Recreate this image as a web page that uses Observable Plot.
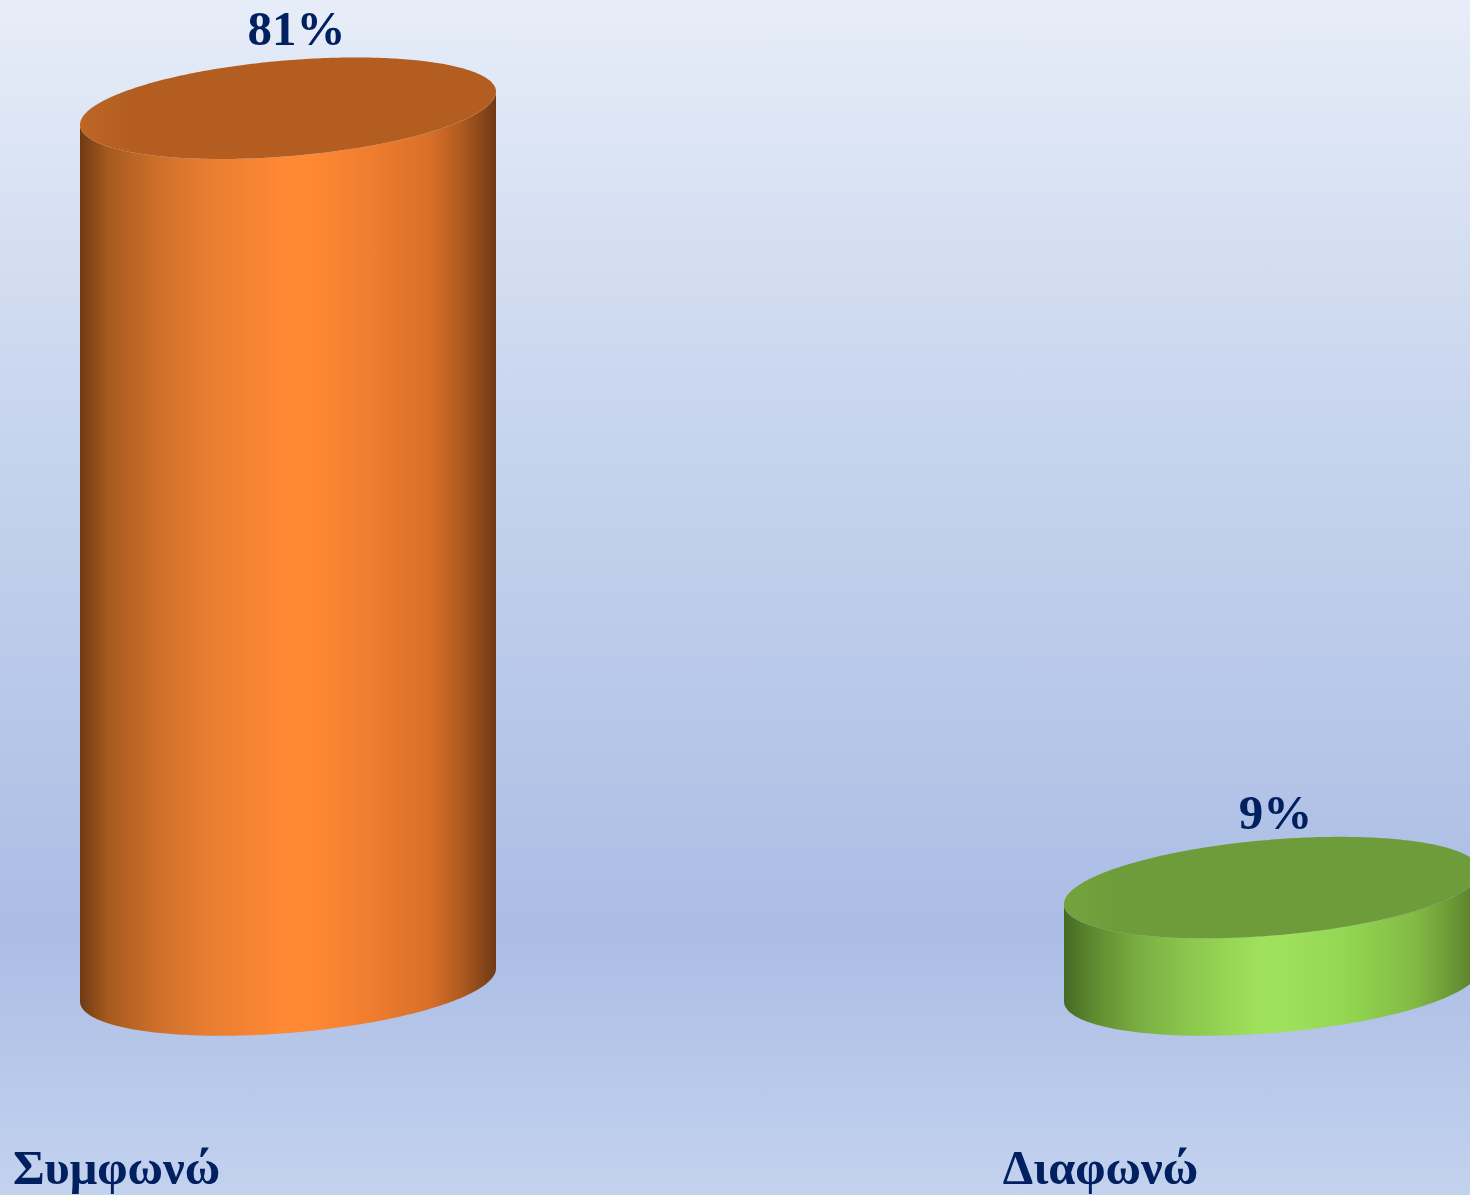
<!DOCTYPE html>
<html>
<head>
<meta charset="utf-8">
<script src="https://cdn.jsdelivr.net/npm/d3@7"></script>
<script src="https://cdn.jsdelivr.net/npm/@observablehq/plot@0.6"></script>
<style>
html,body{margin:0;padding:0;width:1470px;height:1195px;overflow:hidden;background:#c3d2ee}
svg{display:block}
</style>
</head>
<body>
<div id="chart"></div>
<script>
const categories = ["Συμφωνώ", "Διαφωνώ"];
const percentages = [81, 9];
const rows = categories.map((category, i) => ({category, value: percentages[i]}));

const ink = "#002060";
const serif = "'Liberation Serif','Times New Roman',serif";
const orangeStops = [[0,"#703a14"],[.065,"#a4591f"],[.19,"#cf712b"],[.31,"#e87d31"],[.49,"#ff8833"],[.56,"#ff8833"],[.69,"#f07e30"],[.84,"#d97029"],[.915,"#b05a20"],[1,"#703a16"]];
const greenStops = [[0,"#456a25"],[.07,"#5f8a30"],[.19,"#7cb043"],[.31,"#8cc94e"],[.47,"#9fe05c"],[.53,"#9fe05c"],[.67,"#94d752"],[.84,"#82bb45"],[.92,"#6f9d37"],[1,"#557c2c"]];
const orangeTop = [[0,"#bd6626"],[.12,"#b35d21"],[1,"#b35d21"]];
const greenTop = [[0,"#74a33c"],[.12,"#6f9c3a"],[1,"#6f9c3a"]];

function defs() {
  const d = d3.create("svg:defs");
  const add = (id, stops) => {
    const g = d.append("linearGradient").attr("id", id).attr("x1", 0).attr("x2", 1).attr("y1", 0).attr("y2", 0);
    stops.forEach(([o, c]) => g.append("stop").attr("offset", o).attr("stop-color", c));
  };
  add("body0", orangeStops); add("body1", greenStops);
  add("top0", orangeTop); add("top1", greenTop);
  return d.node();
}

// Turns each bar of the Plot into a tilted cylinder of the same box.
function cylinder(index, scales, values, dimensions, context, next) {
  const g = next(index, scales, values, dimensions, context);
  const line = d3.line();
  const tilt = 16.5, minor = 48;
  d3.select(g).selectAll("rect").each(function(_, n) {
    const r = d3.select(this);
    const x = +r.attr("x"), w = +r.attr("width"), yT = +r.attr("y"), yB = yT + +r.attr("height");
    const cx = x + w / 2, a = w / 2;
    const pt = (t, cy) => [cx + a * Math.cos(t), cy - tilt * Math.cos(t) + minor * Math.sin(t)];
    const N = 180;
    const front = d3.range(N + 1).map(k => pt(Math.PI * k / N, yB));
    const rim = d3.range(N + 1).map(k => pt(Math.PI * (1 - k / N), yT));
    const whole = d3.range(2 * N).map(k => pt(Math.PI * k / N, yT));
    const sel = d3.select(g);
    sel.append("path").attr("d", line(front.concat(rim)) + "Z").attr("fill", `url(#body${n})`);
    sel.append("path").attr("d", line(whole) + "Z").attr("fill", `url(#top${n})`);
    r.remove();
  });
  return g;
}

const chart = Plot.plot({
  width: 1470,
  height: 1195,
  marginTop: 0,
  marginLeft: 0,
  marginRight: 0,
  marginBottom: 210,
  style: {
    background: "linear-gradient(180deg,#e7edf8 0%,#c9d6ee 33%,#abbde5 78%,#c3d2ee 100%)",
    fontFamily: serif,
    overflow: "hidden"
  },
  x: {domain: categories, range: [79.5, 1480.5], paddingInner: 0.5776, paddingOuter: 0, label: null},
  y: {domain: [0, 91], axis: null},
  marks: [
    defs,
    Plot.barY(rows, {x: "category", y: "value", fill: "category", render: cylinder}),
    Plot.text(rows.slice(0, 1), {x: "category", y: "value", text: d => d.value + "%", fill: ink, fontSize: 49, fontWeight: 700, fontFamily: serif, lineAnchor: "bottom", dx: 8, dy: -64}),
    Plot.text(rows.slice(1), {x: "category", y: "value", text: d => d.value + "%", fill: ink, fontSize: 49, fontWeight: 700, fontFamily: serif, lineAnchor: "bottom", dx: 3, dy: -59}),
    Plot.axisX({anchor: "bottom", tickSize: 0, tickPadding: 164, fontSize: 48.5, fontWeight: 700, fontFamily: serif, fill: ink, dx: -172, label: null})
  ]
});
document.getElementById("chart").append(chart);
</script>
</body>
</html>
